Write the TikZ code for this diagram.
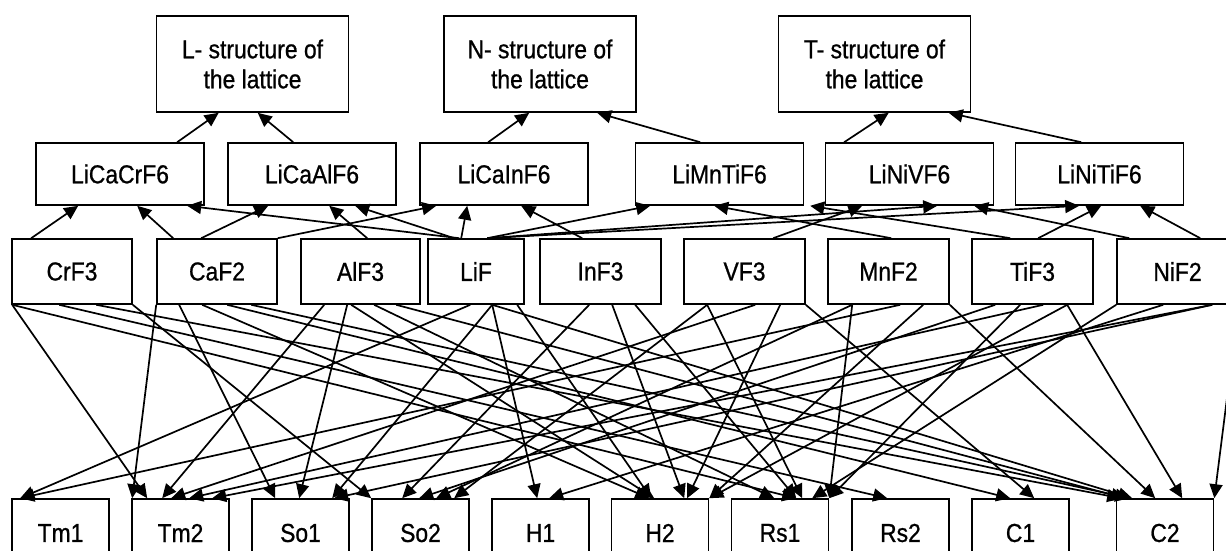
\documentclass[tikz,border=0pt]{standalone}
\usepackage{fontspec}
\setmainfont{Liberation Sans}[FakeStretch=0.88,FakeBold=0.8]
\usetikzlibrary{arrows.meta}
\begin{document}
\begin{tikzpicture}[x=1pt,y=-1pt,
  box/.style={draw, line width=1.6pt, inner sep=0pt, align=center, font=\fontsize{26}{30}\selectfont},
  topbox/.style={box, minimum width=192pt, minimum height=96pt},
  midbox/.style={box, minimum width=168pt, minimum height=62pt},
  rowbox/.style={box, minimum width=120pt, minimum height=65pt},
  botbox/.style={box, minimum width=97pt, minimum height=68pt},
  arr/.style={line width=1.7pt, -{Triangle[length=14pt,width=13pt]}}]
\useasboundingbox (0,0) rectangle (1226,550);
\clip (0,0) rectangle (1226,550);
% top row
\node[topbox] (L) at (252.5,64) {L- structure of\\the lattice};
\node[topbox] (N) at (540,64) {N- structure of\\the lattice};
\node[topbox] (T) at (874.5,64) {T- structure of\\the lattice};
% middle row
\node[midbox] (lcc) at (120,174) {LiCaCrF6};
\node[midbox] (lca) at (312,174) {LiCaAlF6};
\node[midbox] (lci) at (504,174) {LiCaInF6};
\node[midbox] (lmt) at (719.5,174) {LiMnTiF6};
\node[midbox] (lnv) at (909.5,174) {LiNiVF6};
\node[midbox] (lnt) at (1099.5,174) {LiNiTiF6};
% fluorides
\node[rowbox] (crf) at (72,271.5) {CrF3};
\node[rowbox] (caf) at (217,271.5) {CaF2};
\node[rowbox, minimum width=119pt] (alf) at (360.5,271.5) {AlF3};
\node[rowbox, minimum width=96pt] (lif) at (476,271.5) {LiF};
\node[rowbox, minimum width=121pt] (inf) at (600.5,271.5) {InF3};
\node[rowbox, minimum width=121pt] (vf) at (744.5,271.5) {VF3};
\node[rowbox, minimum width=121pt] (mnf) at (888.5,271.5) {MnF2};
\node[rowbox, minimum width=121pt] (tif) at (1032.5,271.5) {TiF3};
\node[rowbox, minimum width=121pt] (nif) at (1177.5,271.5) {NiF2};
% properties
\node[botbox] (tm1) at (60.5,533) {Tm1};
\node[botbox] (tm2) at (180.5,533) {Tm2};
\node[botbox] (so1) at (300.5,533) {So1};
\node[botbox] (so2) at (420.5,533) {So2};
\node[botbox] (h1) at (540.5,533) {H1};
\node[botbox] (h2) at (660,533) {H2};
\node[botbox] (rs1) at (780,533) {Rs1};
\node[botbox] (rs2) at (900.5,533) {Rs2};
\node[botbox] (c1) at (1020.5,533) {C1};
\node[botbox] (c2) at (1165,533) {C2};
% middle -> top
\draw[arr] ([xshift=142pt]lcc.north west) -- ([xshift=63pt]L.south west);
\draw[arr] ([xshift=66pt]lca.north west) -- ([xshift=102pt]L.south west);
\draw[arr] ([xshift=69pt]lci.north west) -- ([xshift=86pt]N.south west);
\draw[arr] ([xshift=65.5pt]lmt.north west) -- ([xshift=154pt]N.south west);
\draw[arr] ([xshift=19.5pt]lnv.north west) -- ([xshift=111pt]T.south west);
\draw[arr] ([xshift=66.5pt]lnt.north west) -- ([xshift=171pt]T.south west);
% fluorides -> compounds
\draw[arr] ([xshift=20pt]crf.north west) -- ([xshift=43pt]lcc.south west);
\draw[arr] ([xshift=17pt]caf.north west) -- ([xshift=102pt]lcc.south west);
\draw[arr] ([xshift=45pt]caf.north west) -- ([xshift=41pt]lca.south west);
\draw[arr] (caf.north east) -- ([xshift=17pt]lci.south west);
\draw[arr] ([xshift=67pt]alf.north west) -- ([xshift=102pt]lca.south west);
\draw[arr] ([xshift=32pt]lif.north west) -- ([xshift=152pt]lcc.south west);
\draw[arr] ([xshift=27pt]lif.north west) -- ([xshift=128pt]lca.south west);
\draw[arr] ([xshift=34pt]lif.north west) -- ([xshift=48pt]lci.south west);
\draw[arr] ([xshift=60pt]lif.north west) -- ([xshift=15.5pt]lmt.south west);
\draw[arr] ([xshift=60pt]lif.north west) -- ([xshift=112.5pt]lnv.south west);
\draw[arr] ([xshift=60pt]lif.north west) -- ([xshift=64.5pt]lnt.south west);
\draw[arr] ([xshift=43pt]inf.north west) -- ([xshift=102pt]lci.south west);
\draw[arr] ([xshift=64pt]mnf.north west) -- ([xshift=79.5pt]lmt.south west);
\draw[arr] ([xshift=39pt]tif.north west) -- ([xshift=175.5pt]lmt.south west);
\draw[arr] ([xshift=90pt]vf.north west) -- ([xshift=37.5pt]lnv.south west);
\draw[arr] ([xshift=13pt]nif.north west) -- ([xshift=149.5pt]lnv.south west);
\draw[arr] ([xshift=67pt]tif.north west) -- ([xshift=86.5pt]lnt.south west);
\draw[arr] ([xshift=84pt]nif.north west) -- ([xshift=125.5pt]lnt.south west);
% fluorides -> properties
% CrF3
\draw[arr] ([xshift=1pt]crf.south west) -- ([xshift=16pt]tm2.north west);
\draw[arr] ([xshift=1pt]crf.south west) -- ([xshift=65.5pt]rs1.north west);
\draw[arr] ([xshift=48pt]crf.south west) -- ([xshift=36pt]rs2.north west);
\draw[arr] ([xshift=85pt]crf.south west) -- ([xshift=5.5pt]c2.north west);
\draw[arr] (crf.south east) -- (so2.north west);
% CaF2
\draw[arr] (caf.south west) -- ([xshift=1pt]tm2.north west);
\draw[arr] ([xshift=23pt]caf.south west) -- ([xshift=24pt]so1.north west);
\draw[arr] ([xshift=46pt]caf.south west) -- ([xshift=38.5pt]h2.north west);
\draw[arr] ([xshift=71pt]caf.south west) -- ([xshift=39pt]c1.north west);
\draw[arr] ([xshift=95pt]caf.south west) -- ([xshift=13.5pt]c2.north west);
% AlF3
\draw[arr] ([xshift=24pt]alf.south west) -- ([xshift=31pt]tm2.north west);
\draw[arr] ([xshift=47pt]alf.south west) -- ([xshift=48pt]so1.north west);
\draw[arr] ([xshift=51pt]alf.south west) -- ([xshift=43.5pt]h2.north west);
\draw[arr] ([xshift=74pt]alf.south west) -- ([xshift=43.5pt]rs1.north west);
\draw[arr] ([xshift=96pt]alf.south west) -- ([xshift=9.5pt]c2.north west);
% LiF
\draw[arr] ([xshift=43pt]lif.south west) -- ([xshift=9pt]tm1.north west);
\draw[arr] ([xshift=65pt]lif.south west) -- ([xshift=81pt]so1.north west);
\draw[arr] ([xshift=65pt]lif.south west) -- ([xshift=46pt]h1.north west);
\draw[arr] ([xshift=65pt]lif.south west) -- ([xshift=16.5pt]c2.north west);
\draw[arr] ([xshift=90pt]lif.south west) -- ([xshift=40.5pt]h2.north west);
% InF3
\draw[arr] ([xshift=50pt]inf.south west) -- ([xshift=31pt]so2.north west);
\draw[arr] ([xshift=73pt]inf.south west) -- ([xshift=73.5pt]h2.north west);
\draw[arr] ([xshift=96pt]inf.south west) -- ([xshift=65.5pt]rs1.north west);
% VF3
\draw[arr] ([xshift=24pt]vf.south west) -- ([xshift=83pt]so2.north west);
\draw[arr] ([xshift=24pt]vf.south west) -- ([xshift=71.5pt]rs1.north west);
\draw[arr] ([xshift=72pt]vf.south west) -- ([xshift=40pt]tm2.north west);
\draw[arr] ([xshift=97pt]vf.south west) -- ([xshift=76.5pt]h2.north west);
\draw[arr] (vf.south east) -- ([xshift=63pt]c1.north west);
% MnF2
\draw[arr] ([xshift=25pt]mnf.south west) -- (rs1.north east);
\draw[arr] ([xshift=25pt]mnf.south west) -- ([xshift=65pt]so2.north west);
\draw[arr] ([xshift=73pt]mnf.south west) -- ([xshift=9pt]tm1.north west);
\draw[arr] ([xshift=96pt]mnf.south west) -- (h2.north east);
\draw[arr] (mnf.south east) -- ([xshift=39.5pt]c2.north west);
% TiF3
\draw[arr] ([xshift=24pt]tif.south west) -- ([xshift=48pt]so2.north west);
\draw[arr] ([xshift=49pt]tif.south west) -- (rs1.north east);
\draw[arr] ([xshift=72pt]tif.south west) -- ([xshift=58pt]tm2.north west);
\draw[arr] ([xshift=96pt]tif.south west) -- (h2.north east);
\draw[arr] ([xshift=96pt]tif.south west) -- ([xshift=66.5pt]c2.north west);
% NiF2
\draw[arr] (nif.south west) -- ([xshift=81.5pt]rs1.north west);
\draw[arr] ([xshift=47pt]nif.south west) -- ([xshift=58pt]h1.north west);
\draw[arr] ([xshift=96pt]nif.south west) -- ([xshift=81pt]tm2.north west);
\draw[arr] ([xshift=96pt]nif.south west) -- ([xshift=83pt]so1.north west);
\draw[arr] (nif.south east) -- (c2.north east);
\end{tikzpicture}
\end{document}
